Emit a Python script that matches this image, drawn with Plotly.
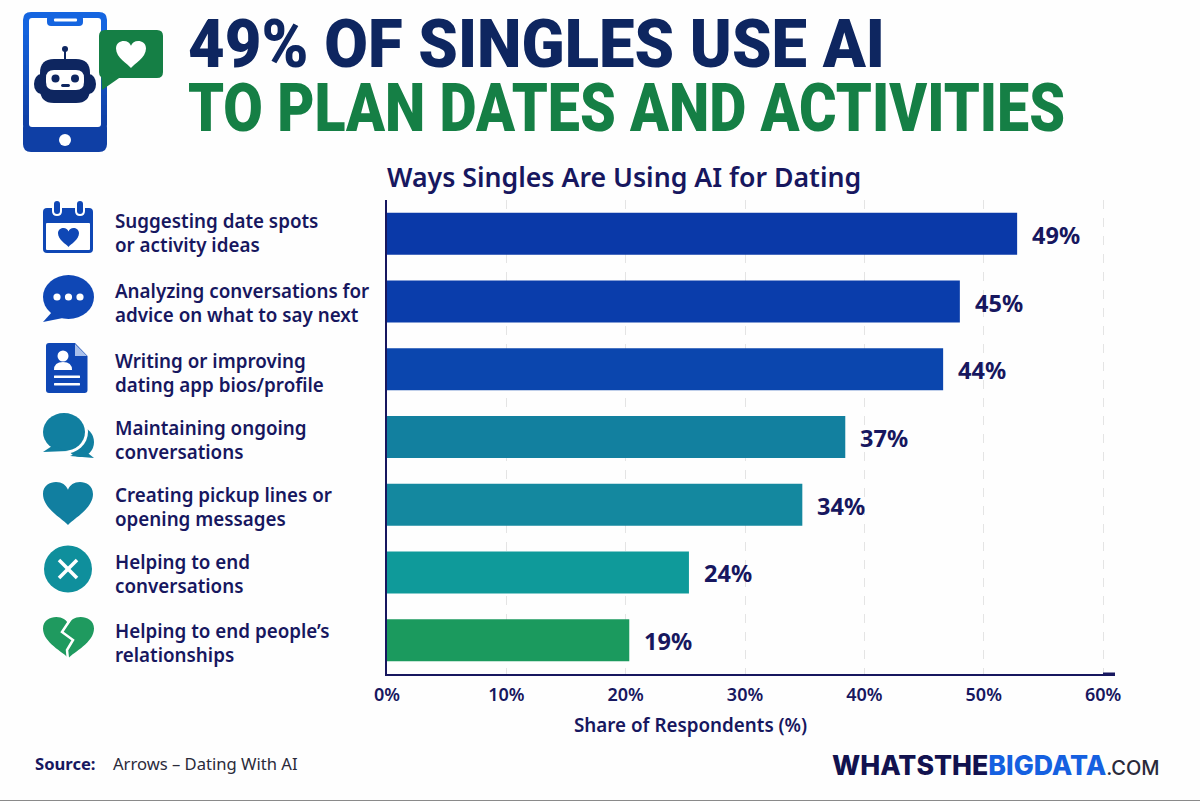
# 49% of singles use AI - bar chart with icon column
import re
import plotly.graph_objects as go

categories = [
    "Suggesting date spots<br>or activity ideas",
    "Analyzing conversations for<br>advice on what to say next",
    "Writing or improving<br>dating app bios/profile",
    "Maintaining ongoing<br>conversations",
    "Creating pickup lines or<br>opening messages",
    "Helping to end<br>conversations",
    "Helping to end people’s<br>relationships",
]
# printed percentages
pct_labels = ["49%", "45%", "44%", "37%", "34%", "24%", "19%"]
# bar ends as read against the axis (the original draws them longer than the printed numbers)
bar_lengths = [52.8, 48.0, 46.6, 38.4, 34.8, 25.3, 20.3]
bar_colors = ["#0a39a8", "#0a3dab", "#0b46ae", "#12809f", "#14889f", "#0f9a9a", "#1b9a5e"]
x_ticks = [0, 10, 20, 30, 40, 50, 60]
x_tick_labels = ["0%", "10%", "20%", "30%", "40%", "50%", "60%"]

NAVY = "#17175f"
DARK = "#0e2660"
GREEN = "#157f45"
BLUE = "#0f47b5"
TEAL = "#117fa0"
SANS = "Noto Sans"

# plot area in page pixels
L, R, T, B = 387, 1115, 200, 674
W, H = 1200, 801


def px(x):
    return (x - L) / (R - L)


def py(y):
    return (B - y) / (B - T)


def path(d):
    # pixel path -> paper path, absolute M/L/C/Q commands only
    nums = iter(re.findall(r"[A-Z]|-?[\d.]+", d))
    out = []
    for tok in nums:
        if tok.isalpha():
            out.append(tok)
        else:
            out.append(f"{px(float(tok)):.5f},{py(float(next(nums))):.5f}")
    return " ".join(out)


shapes = []


def fill(d, color):
    shapes.append(dict(type="path", xref="paper", yref="paper", path=path(d),
                       fillcolor=color, line_width=0))


def stroke(d, color, width):
    shapes.append(dict(type="path", xref="paper", yref="paper", path=path(d),
                       line=dict(color=color, width=width)))


def oval(cx, cy, rx, ry, color):
    shapes.append(dict(type="circle", xref="paper", yref="paper", fillcolor=color, line_width=0,
                       x0=px(cx - rx), x1=px(cx + rx), y0=py(cy + ry), y1=py(cy - ry)))


def rrect(x0, y0, x1, y1, r, color):
    fill(f"M {x0+r} {y0} L {x1-r} {y0} Q {x1} {y0} {x1} {y0+r} L {x1} {y1-r} Q {x1} {y1} {x1-r} {y1} "
         f"L {x0+r} {y1} Q {x0} {y1} {x0} {y1-r} L {x0} {y0+r} Q {x0} {y0} {x0+r} {y0} Z", color)


def heart(cx, top, w, h, color):
    a, b = cx - w / 2, cx + w / 2
    bot = top + h
    fill(f"M {cx} {bot} C {cx-0.1*w} {top+0.86*h} {a} {top+0.62*h} {a} {top+0.28*h} "
         f"C {a} {top+0.08*h} {cx-0.36*w} {top} {cx-0.24*w} {top} "
         f"C {cx-0.12*w} {top} {cx-0.04*w} {top+0.07*h} {cx} {top+0.18*h} "
         f"C {cx+0.04*w} {top+0.07*h} {cx+0.12*w} {top} {cx+0.24*w} {top} "
         f"C {cx+0.36*w} {top} {b} {top+0.08*h} {b} {top+0.28*h} "
         f"C {b} {top+0.62*h} {cx+0.1*w} {top+0.86*h} {cx} {bot} Z", color)


# phone, blue fading down in strips
rrect(23, 12, 107, 40, 8, "#1565e0")
rrect(23, 120, 107, 152, 8, "#0f3fa5")
for i in range(20):
    t = i / 19
    col = f"rgb({21-6*t:.0f},{101-38*t:.0f},{224-59*t:.0f})"
    fill(f"M 23 {25+i*5} L 107 {25+i*5} L 107 {30.5+i*5} L 23 {30.5+i*5} Z", col)
rrect(29, 18, 101, 127, 3, "white")
rrect(47, 15, 83, 26, 4, "#1565e0")
rrect(54, 18.5, 77, 21.5, 1, "white")
oval(65, 140, 6, 6, "white")

# robot
stroke("M 65 50 L 65 60", DARK, 2)
oval(65, 49, 3, 3, DARK)
oval(41, 84, 7, 10, DARK)
oval(89, 84, 7, 10, DARK)
rrect(40, 59, 90, 103, 14, DARK)
rrect(46, 70, 84, 90, 8, "white")
oval(55.5, 78.5, 4, 4, DARK)
oval(75, 78.5, 4, 4, DARK)
rrect(61, 84, 70, 87, 1.5, DARK)

# speech bubble with heart
rrect(99, 30, 163, 78, 6, GREEN)
fill("M 101 70 L 102 90 L 122 76 Z", GREEN)
heart(131, 41, 30, 27, "white")

# calendar
rrect(43, 208, 93, 253, 4, BLUE)
rrect(46, 223, 90, 250, 1, "white")
rrect(52, 199, 62, 216, 5, "white")
rrect(75, 199, 85, 216, 5, "white")
rrect(54, 201, 60, 214, 3, BLUE)
rrect(77, 201, 83, 214, 3, BLUE)
heart(68.5, 228, 21, 19, BLUE)

# chat dots
oval(68.5, 297, 25.5, 22, BLUE)
fill("M 52 312 L 43 322 L 68 317 Z", BLUE)
for dot_x in [57, 68.5, 80]:
    oval(dot_x, 297, 3.6, 3.6, "white")

# profile page
fill("M 49 343 L 75 343 L 87.5 356 L 87.5 390 Q 87.5 393 84.5 393 L 49 393 Q 46 393 46 390 L 46 346 Q 46 343 49 343 Z", BLUE)
fill("M 75 344 L 87 356 L 75 356 Z", "#a9c0ea")
oval(63, 356, 5.5, 5.5, "white")
fill("M 54 370 Q 54 362 63 362 Q 72 362 72 370 Z", "white")
rrect(54, 375.5, 80, 378, 0.5, "white")
rrect(54, 383, 80, 385.5, 0.5, "white")

# two bubbles
oval(80, 442, 14, 15, TEAL)
fill("M 84 450 L 94 458 L 70 456 Z", TEAL)
oval(64, 432, 24, 22, "white")
oval(64, 432, 21, 19, TEAL)
fill("M 52 446 L 43 452 L 68 451 Z", TEAL)

# heart, cross, broken heart
heart(68, 482, 50, 43, TEAL)
oval(68, 569, 24, 23.5, "#0f8f9c")
stroke("M 59 560 L 77 578", "white", 3.5)
stroke("M 77 560 L 59 578", "white", 3.5)
heart(68.5, 617, 51, 41, "#1f9a5f")
stroke("M 72 617 L 62 632 L 73 640 L 67 650 L 68 660", "white", 2.5)

annotations = []


def label(x, y, text, size, color, weight=600, anchor="left", family=SANS):
    annotations.append(dict(xref="paper", yref="paper", x=px(x), y=py(y), text=text, showarrow=False,
                            xanchor=anchor, yanchor="middle", align="left",
                            font=dict(family=family, size=size, color=color, weight=weight)))


# headline, squeezed to width in the post script below
label(186, 44.5, "49% OF SINGLES USE AI", 66, DARK, 900, family="Roboto")
label(186, 108.5, "TO PLAN DATES AND ACTIVITIES", 66, GREEN, 900, family="Roboto")

# category labels in the left column, not quite centred on their bars
label_centres = [233, 303, 373, 440, 507, 574, 643]
for cat, yc in zip(categories, label_centres):
    label(113, yc, cat, 18.8, NAVY)

# percent labels just past the bar ends
for cat, val, txt in zip(categories, bar_lengths, pct_labels):
    annotations.append(dict(xref="x", yref="y", x=val, y=cat, text=txt, showarrow=False, xanchor="left",
                            xshift=13, yshift=-1, font=dict(family=SANS, size=23.5, color=NAVY, weight=700)))

label(690.5, 725, "Share of Respondents (%)", 18.8, NAVY, anchor="center")
label(33, 763, "Source:", 16.6, NAVY, 700)
label(111, 763, "Arrows – Dating With AI", 16.6, "#2a2a3a", 400)
label(830, 765,
      f'<span style="color:#12124f">WHATSTHE</span><span style="color:#1560e0">BIGDATA</span>'
      f'<span style="color:#2a2a3a;font-size:20px;font-weight:500">.COM</span>',
      26.7, NAVY, 800, family="Inter")

# axis stub past 60% and the page's bottom edge
stroke("M 1103 674 L 1115 674", NAVY, 3)
stroke("M 0 800.5 L 1200 800.5", "#8a8a8a", 1)

fig = go.Figure(go.Bar(
    x=bar_lengths, y=categories, orientation="h",
    marker=dict(color=bar_colors, line_width=0),
    hoverinfo="skip",
))
fig.update_layout(
    width=W, height=H,
    margin=dict(l=L, r=W - R, t=T, b=H - B),
    paper_bgcolor="#fefefe", plot_bgcolor="#fefefe",
    bargap=0.38, showlegend=False,
    title=dict(text="Ways Singles Are Using AI for Dating", xref="container", x=387 / W, xanchor="left",
               yref="container", y=1 - 178 / H, yanchor="middle",
               font=dict(family=SANS, size=26.7, color=NAVY, weight=600)),
    shapes=shapes, annotations=annotations,
)
fig.update_xaxes(range=[0, 61], tickvals=x_ticks, ticktext=x_tick_labels, ticks="", showline=True, linecolor=NAVY,
                 linewidth=2, showgrid=True, gridcolor="#e4e4e4", griddash="dash", gridwidth=1, zeroline=False,
                 tickfont=dict(family=SANS, size=18, color=NAVY, weight=600), ticklabelstandoff=3)
fig.update_yaxes(autorange="reversed", showticklabels=False, ticks="", showline=True, linecolor=NAVY,
                 linewidth=2, showgrid=False)

# no condensed heavy font installed, so fit the two headline lines to their widths
squeeze = """
document.body.style.margin = '0';
document.querySelectorAll('.annotation-text').forEach(function (t) {
  var s = t.textContent, len = s.startsWith('49% OF') ? 697 : s.startsWith('TO PLAN') ? 877 : 0;
  if (!len) return;
  t.setAttribute('textLength', len);
  t.setAttribute('lengthAdjust', 'spacingAndGlyphs');
});
"""
fig.write_html("out.html", config=dict(displayModeBar=False), post_script=squeeze)
